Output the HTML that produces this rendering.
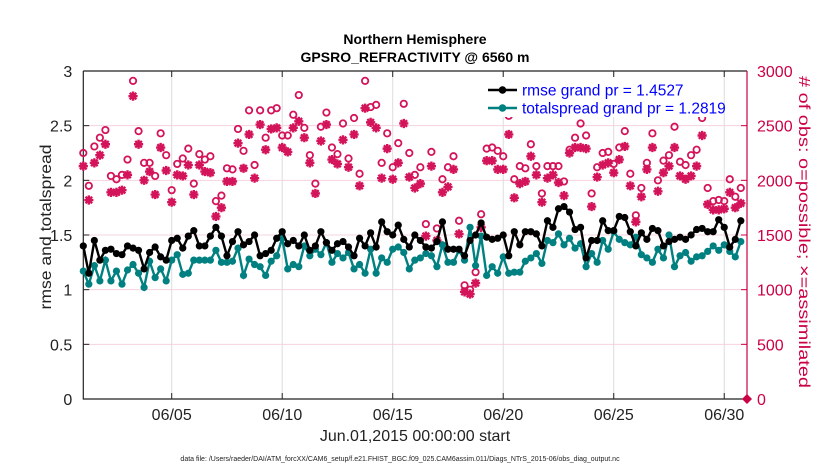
<!DOCTYPE html>
<html><head><meta charset="utf-8"><style>
body{margin:0;background:#fff;}
svg{display:block;font-family:"Liberation Sans",sans-serif;}
</style></head><body>
<svg id="chart" width="830" height="470" viewBox="0 0 830 470">
<rect x="0" y="0" width="830" height="470" fill="#fff"/>
<g id="grid"></g>
<g id="axes"></g>
<g id="series"></g>
<g id="legend"></g>
<text x="415" y="44" text-anchor="middle" font-size="14" font-weight="bold" fill="#000">Northern Hemisphere</text>
<text x="415" y="62" text-anchor="middle" font-size="14" font-weight="bold" fill="#000">GPSRO_REFRACTIVITY @ 6560 m</text>
<text x="415" y="441" text-anchor="middle" font-size="16" fill="#222">Jun.01,2015 00:00:00 start</text>
<text x="400" y="461" text-anchor="middle" font-size="7" fill="#222">data file: /Users/raeder/DAI/ATM_forcXX/CAM6_setup/f.e21.FHIST_BGC.f09_025.CAM6assim.011/Diags_NTrS_2015-06/obs_diag_output.nc</text>
<text transform="translate(51,227) rotate(-90)" text-anchor="middle" font-size="16" fill="#222" textLength="165" lengthAdjust="spacingAndGlyphs">rmse and totalspread</text>
<text transform="translate(799,232) rotate(90)" text-anchor="middle" font-size="16" fill="#cc0044" textLength="312" lengthAdjust="spacingAndGlyphs"># of obs: o=possible; ×=assimilated</text>
</svg>
<script>
const tickDays=[5,10,15,20,25,30];
const tickLabels=["06/05","06/10","06/15","06/20","06/25","06/30"];
const leftTicks=[0,0.5,1,1.5,2,2.5,3];
const leftTickLabels=["0","0.5","1","1.5","2","2.5","3"];
const rightTicks=[0,500,1000,1500,2000,2500,3000];
const startDay=1;
const stepDay=0.25;
const rmse=[1.40,1.15,1.45,1.27,1.36,1.37,1.33,1.32,1.40,1.38,1.36,1.19,1.34,1.39,1.30,1.27,1.45,1.47,1.38,1.49,1.54,1.40,
1.40,1.49,1.57,1.49,1.31,1.44,1.53,1.41,1.44,1.50,1.31,1.33,
1.36,1.47,1.53,1.42,1.45,1.40,1.50,1.36,1.40,1.53,1.43,1.36,1.42,1.44,1.39,1.31,1.47,1.40,1.52,1.39,1.62,1.53,1.50,1.59,1.46,1.39,1.50,1.45,1.39,
1.38,1.44,1.62,1.37,1.37,1.37,1.31,1.45,1.50,1.61,1.48,1.46,1.47,1.50,1.31,1.53,1.41,1.53,1.53,1.51,1.40,1.63,1.57,1.74,1.76,1.71,1.55,1.57,1.29,
1.45,1.45,1.63,1.54,1.54,1.67,1.66,1.53,1.40,1.52,1.46,1.56,1.54,1.40,1.44,1.46,1.48,1.46,1.50,1.55,1.56,1.53,1.53,1.64,1.57,1.39,1.46,1.63];
const spread=[1.17,1.05,1.22,1.08,1.27,1.08,1.17,1.05,1.18,1.23,1.15,1.02,1.26,1.11,1.19,1.08,1.27,1.32,1.14,1.15,1.27,1.27,
1.27,1.27,1.36,1.25,1.25,1.26,1.38,1.13,1.28,1.23,1.21,1.13,
1.26,1.31,1.47,1.19,1.23,1.21,1.40,1.31,1.37,1.32,1.43,1.25,1.33,1.29,1.34,1.19,1.23,1.15,1.37,1.15,1.29,1.25,1.37,1.39,1.34,1.19,1.27,1.29,1.33,
1.31,1.21,1.41,1.25,1.25,1.36,1.27,1.57,1.22,1.49,1.13,1.21,1.15,1.30,1.15,1.16,1.16,1.26,1.29,1.33,1.24,1.45,1.43,1.51,1.41,1.47,1.38,1.42,1.21,
1.33,1.25,1.45,1.37,1.53,1.46,1.43,1.41,1.48,1.32,1.29,1.25,1.37,1.29,1.50,1.21,1.31,1.34,1.26,1.30,1.31,1.35,1.40,1.36,1.41,1.35,1.30,1.44];
const possible=[2250,1950,2310,2390,2460,2040,2010,2050,2190,2910,2450,2160,2160,2040,2430,2230,1910,2150,2200,2290,1970,2240,
2190,2220,1810,1860,2110,2100,2470,2270,2640,2140,2640,2390,
2640,2660,2410,2410,2600,2780,2480,2230,1970,2490,2620,2300,2240,2520,2200,2570,2060,2910,2670,2690,2160,2430,2120,2340,2700,2250,2050,2120,1600,
2260,1560,2010,2120,2220,1630,1040,1000,1160,1690,2290,2300,2270,2220,2590,2010,2130,2110,2330,2130,1880,2130,2130,2130,1990,2280,2390,2520,2410,
1880,2120,2250,2260,2150,2300,2450,2060,1680,1930,2160,2430,2000,2180,2230,2490,2170,2140,2230,2280,2570,1930,1810,1820,1810,2010,1850,1930];
const assimilated=[2130,1820,2160,2230,2330,1890,1890,1910,2050,2770,2330,2000,2080,1870,2300,2090,1800,2050,2040,2140,1870,2140,
2080,2070,1670,1750,1990,1990,2340,2110,2420,2020,2510,2280,
2470,2480,2300,2260,2480,2540,2390,2160,1880,2360,2510,2190,2150,2370,2120,2420,1950,2660,2530,2480,2020,2290,2010,2160,2520,2030,1930,1970,1490,
2130,1450,1890,1940,2100,1510,980,960,1060,1570,2180,2180,2100,2100,2420,1840,1970,1990,2220,2050,1800,2020,2050,1980,1860,2250,2300,2300,2290,
1760,2030,2140,2160,2070,2190,2310,1950,1620,1850,2100,2300,1900,2070,2130,2300,2040,2010,2040,2130,2410,1780,1730,1730,1740,1890,1750,1790];

const NS="http://www.w3.org/2000/svg";
const L=83.3,R=747,T=71,B=399;
const xDom=[1,31.03];
function xS(d){return L+(d-xDom[0])/(xDom[1]-xDom[0])*(R-L);}
function yS(v){return B-v/3*(B-T);}
function yR(c){return B-c/3000*(B-T);}
function mk(tag,attrs,parent){const e=document.createElementNS(NS,tag);for(const k in attrs)e.setAttribute(k,attrs[k]);parent.appendChild(e);return e;}
const grid=document.getElementById('grid'),axes=document.getElementById('axes'),series=document.getElementById('series'),legend=document.getElementById('legend');

leftTicks.forEach((v,i)=>{
  if(v>0&&v<3){const g=mk('line',{x1:L,x2:R,y1:yS(v),y2:yS(v),stroke:'#f6d3de','stroke-width':1},grid);
  
  }
  const t=mk('text',{x:L-11,y:yS(v)+6,'text-anchor':'end','font-size':16,fill:'#222'},axes);
  t.textContent=leftTickLabels[i];
  
  
  const tk=mk('line',{x1:L,x2:L+6,y1:yS(v),y2:yS(v),stroke:'#222'},axes);
  
  
});
tickDays.forEach((d,i)=>{
  const g=mk('line',{x1:xS(d),x2:xS(d),y1:T,y2:B,stroke:'#dcdcdc','stroke-width':1},grid);
  
  
  const tk=mk('line',{x1:xS(d),x2:xS(d),y1:B,y2:B-6,stroke:'#222'},axes);
  
  
  const tk2=mk('line',{x1:xS(d),x2:xS(d),y1:T,y2:T+6,stroke:'#222'},axes);
  
  
  const t=mk('text',{x:xS(d),y:B+21,'text-anchor':'middle','font-size':16,fill:'#222'},axes);
  t.textContent=tickLabels[i];
  
  
});
rightTicks.forEach(c=>{
  const tk=mk('line',{x1:R,x2:R-6,y1:yR(c),y2:yR(c),stroke:'#cc0044'},axes);
  
  
  const t=mk('text',{x:R+10,y:yR(c)+6,'font-size':16,fill:'#cc0044'},axes);
  t.textContent=String(c);
  
  
});
const ax1=mk('path',{d:`M${L},${T}V${B}H${R}M${L},${T}H${R}`,fill:'none',stroke:'#222','stroke-width':1.2},axes);


const ax2=mk('line',{x1:R,x2:R,y1:T,y2:B,stroke:'#cc0044','stroke-width':1.2},axes);


const dm=mk('path',{d:`M${R-5},${B}L${R},${B-5}L${R+5},${B}L${R},${B+5}Z`,fill:'#cc0044'},axes);



function star(x,y,parent){
  const s=4.6,d=s*0.72;
  const p=mk('path',{d:`M${x-s},${y}H${x+s}M${x},${y-s}V${y+s}M${x-d},${y-d}L${x+d},${y+d}M${x-d},${y+d}L${x+d},${y-d}`,stroke:'#d4145a','stroke-width':2.4,fill:'none'},parent);
  return p;
}
assimilated.forEach((c,i)=>{
  const p=star(xS(startDay+i*stepDay),yR(c),series);
  
  
});
possible.forEach((c,i)=>{
  const p=mk('circle',{cx:xS(startDay+i*stepDay),cy:yR(c),r:3.2,fill:'none',stroke:'#d4145a','stroke-width':1.8},series);
  
  
});
function line(vals,color,name){
  const d=vals.map((v,i)=>(i?'L':'M')+xS(startDay+i*stepDay).toFixed(1)+','+yS(v).toFixed(1)).join('');
  const p=mk('path',{d:d,fill:'none',stroke:color,'stroke-width':2.4},series);
  
  
  vals.forEach((v,i)=>{
    const c=mk('circle',{cx:xS(startDay+i*stepDay),cy:yS(v),r:3.6,fill:color},series);
    
    
  });
}
line(spread,'#008080','totalspread');
line(rmse,'#000000','rmse');

const lb=mk('rect',{x:480,y:77,width:232,height:40,fill:'#fff'},legend);


[['#000','rmse grand pr = 1.4527',90,'legend-entry-rmse'],['#008080','totalspread grand pr = 1.2819',108,'legend-entry-totalspread']].forEach(e=>{
  const g=mk('g',{},legend);
  
  
  mk('line',{x1:488,x2:517,y1:e[2],y2:e[2],stroke:e[0],'stroke-width':2.4},g);
  mk('circle',{cx:502.5,cy:e[2],r:3.8,fill:e[0]},g);
  const t=mk('text',{x:522,y:e[2]+5.5,'font-size':15.5,fill:'#0000ff'},g);
  t.textContent=e[1];
});
</script>
</body></html>
